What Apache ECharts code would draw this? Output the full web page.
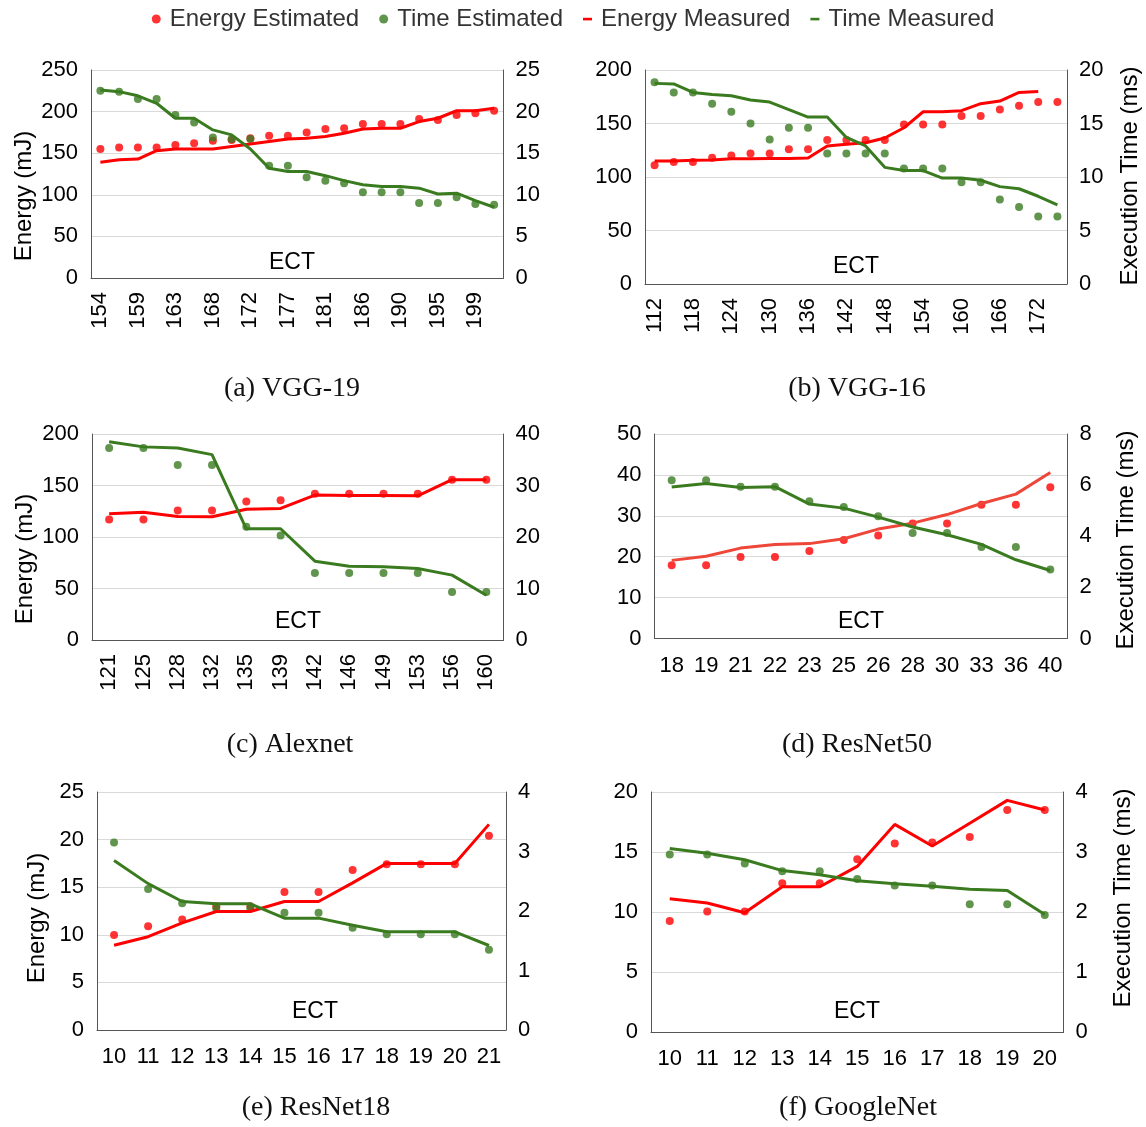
<!DOCTYPE html>
<html>
<head>
<meta charset="utf-8">
<script src="https://cdn.jsdelivr.net/npm/echarts@6/dist/echarts.min.js"></script>
<style>
html,body{margin:0;padding:0;background:#fff;}
#chart{width:1146px;height:1127px;}
</style>
</head>
<body>
<div id="chart"></div>
<script>
// ---------------- DATA ----------------
// (a) VGG-19
const cat_vgg19 = [154,156,159,161,163,165,168,170,172,174,177,179,181,183,186,188,190,192,195,197,199,201];
const energyEst_vgg19 = [155,157,157,157,160,162,165,166,168,171,171,175,179,180,185,185,185,191,190,196,198,201];
const timeEst_vgg19 = [22.5,22.4,21.5,21.5,19.6,18.7,16.9,16.7,16.7,13.5,13.5,12.1,11.7,11.4,10.3,10.3,10.3,9.0,9.0,9.7,8.9,8.8];
const energyMeas_vgg19 = [139,142,143,153,155,155,155,158,161,164,167,168,170,174,179,180,180,188,192,201,201,204];
const timeMeas_vgg19 = [22.6,22.4,21.9,21.0,19.2,19.2,17.8,17.2,15.5,13.2,12.8,12.8,12.3,11.7,11.2,11.0,11.0,10.8,10.1,10.2,9.3,8.5];

// (b) VGG-16
const cat_vgg16 = [112,115,118,121,124,127,130,133,136,139,142,145,148,151,154,157,160,163,166,169,172,175];
const energyEst_vgg16 = [111,114,114,118,120,122,122,126,126,134.6,134.6,134.6,134.6,149,149,149,157,157,163,166.7,170,170];
const timeEst_vgg16 = [18.85,17.9,17.9,16.85,16.1,15.0,13.5,14.6,14.6,12.2,12.2,12.2,12.2,10.8,10.8,10.8,9.5,9.5,7.9,7.2,6.3,6.3];
const energyMeas_vgg16 = [115,115,115.6,116,117,117,117.4,117.4,117.8,129,130.5,132,136.4,146,161,161,162,168.5,171,179,180,null];
const timeMeas_vgg16 = [18.75,18.7,17.9,17.7,17.6,17.2,17.0,16.3,15.6,15.6,13.7,12.9,10.9,10.6,10.6,9.9,9.9,9.7,9.1,8.9,8.2,7.4];

// (c) Alexnet
const cat_alex = [121,125,128,132,135,139,142,146,149,153,156,160];
const energyEst_alex = [117,117,125.8,125.8,134.5,135.8,142,142,142,142,155.6,155.6];
const timeEst_alex = [37.3,37.3,34.0,34.0,22.0,20.3,13.0,13.0,13.0,13.0,9.3,9.3];
const energyMeas_alex = [122.5,124,120,119.6,127,127.7,140.7,140.4,140.4,140,155.6,155.6];
const timeMeas_alex = [38.5,37.5,37.3,36.0,21.6,21.6,15.3,14.3,14.2,13.9,12.6,8.7];

// (d) ResNet50
const cat_r50 = [18,19,21,22,23,25,26,28,30,33,36,40];
const energyEst_r50 = [17.9,17.9,19.9,19.9,21.4,24.1,25.2,28.1,28.1,32.7,32.7,37.0];
const timeEst_r50 = [6.19,6.19,5.94,5.94,5.37,5.14,4.78,4.13,4.13,3.58,3.58,2.70];
const energyMeas_r50 = [19.1,20.1,22.1,23.0,23.2,24.4,26.75,28.2,30.3,33.0,35.3,40.6];
const timeMeas_r50 = [5.93,6.06,5.91,5.94,5.26,5.10,4.75,4.36,4.06,3.68,3.08,2.66];

// (e) ResNet18
const cat_r18 = [10,11,12,13,14,15,16,17,18,19,20,21];
const energyEst_r18 = [9.97,10.9,11.6,13.0,13.0,14.5,14.5,16.8,17.4,17.4,17.4,20.4];
const timeEst_r18 = [3.15,2.37,2.13,2.04,2.04,1.97,1.97,1.72,1.61,1.61,1.61,1.35];
const energyMeas_r18 = [8.9,9.8,11.26,12.45,12.45,13.5,13.5,15.45,17.5,17.5,17.5,21.6];
const timeMeas_r18 = [2.85,2.46,2.16,2.12,2.12,1.88,1.88,1.76,1.65,1.65,1.65,1.42];

// (f) GoogleNet
const cat_gn = [10,11,12,13,14,15,16,17,18,19,20];
const energyEst_gn = [9.25,10.05,10.05,12.4,12.4,14.4,15.7,15.8,16.25,18.5,18.5];
const timeEst_gn = [2.96,2.96,2.81,2.68,2.68,2.55,2.44,2.44,2.13,2.13,1.95];
const energyMeas_gn = [11.1,10.75,9.94,12.1,12.1,13.8,17.3,15.5,17.4,19.3,18.5];
const timeMeas_gn = [3.06,2.98,2.87,2.69,2.62,2.52,2.47,2.43,2.38,2.36,1.96];

const captions = ['(a) VGG-19','(b) VGG-16','(c) Alexnet','(d) ResNet50','(e) ResNet18','(f) GoogleNet'];
const seriesNames = ['Energy Estimated','Time Estimated','Energy Measured','Time Measured'];

// ---------------- LAYOUT ----------------
const RED = '#ff0000';
const GREEN = '#3a7b20';
const FONT = '"Liberation Sans", Arial, sans-serif';

const panels = [
  {cats:cat_vgg19, eE:energyEst_vgg19, tE:timeEst_vgg19, eM:energyMeas_vgg19, tM:timeMeas_vgg19,
   grid:{left:91, top:70, width:412.5, height:208}, eMax:250, eInt:50, tMax:25, tInt:5, rotate:90, li:1,
   ect:[292,263], cap:[292,389], yName:[24,196], redLine:RED},
  {cats:cat_vgg16, eE:energyEst_vgg16, tE:timeEst_vgg16, eM:energyMeas_vgg16, tM:timeMeas_vgg16,
   grid:{left:645, top:70, width:422, height:214}, eMax:200, eInt:50, tMax:20, tInt:5, rotate:90, li:1,
   ect:[856,267], cap:[857,389], tName:[1130,176], redLine:RED},
  {cats:cat_alex, eE:energyEst_alex, tE:timeEst_alex, eM:energyMeas_alex, tM:timeMeas_alex,
   grid:{left:92, top:434, width:411.5, height:206}, eMax:200, eInt:50, tMax:40, tInt:10, rotate:90, li:0,
   ect:[298,622], cap:[290,745], yName:[25,559], redLine:RED},
  {cats:cat_r50, eE:energyEst_r50, tE:timeEst_r50, eM:energyMeas_r50, tM:timeMeas_r50,
   grid:{left:654.5, top:434, width:413, height:204.5}, eMax:50, eInt:10, tMax:8, tInt:2, rotate:0, li:0,
   ect:[861,622], cap:[857,745], tName:[1126,540], redLine:'#ee4638'},
  {cats:cat_r18, eE:energyEst_r18, tE:timeEst_r18, eM:energyMeas_r18, tM:timeMeas_r18,
   grid:{left:97, top:792, width:409, height:238}, eMax:25, eInt:5, tMax:4, tInt:1, rotate:0, li:0,
   ect:[315,1012], cap:[316,1108], yName:[37,918], redLine:RED},
  {cats:cat_gn, eE:energyEst_gn, tE:timeEst_gn, eM:energyMeas_gn, tM:timeMeas_gn,
   grid:{left:651, top:792, width:412.5, height:240}, eMax:20, eInt:5, tMax:4, tInt:1, rotate:0, li:0,
   ect:[857,1012], cap:[858,1108], tName:[1123,898], redLine:RED}
];

const grids = [], xAxes = [], yAxes = [], series = [], graphics = [];
const axisLine = {show:true, lineStyle:{color:'#555', width:1}};

panels.forEach((p, i) => {
  grids.push(Object.assign({containLabel:false}, p.grid));
  xAxes.push({
    type:'category', gridIndex:i, data:p.cats.map(String), boundaryGap:true,
    axisLine:axisLine, axisTick:{show:false},
    axisLabel:{interval:p.li, rotate:p.rotate, margin:p.rotate ? 14 : 16,
      fontSize:22, color:'#000', fontFamily:FONT},
    splitLine:{show:false}
  });
  yAxes.push({
    type:'value', gridIndex:i, position:'left', min:0, max:p.eMax, interval:p.eInt,
    axisLine:axisLine, axisTick:{show:false},
    axisLabel:{fontSize:22, color:'#000', fontFamily:FONT, margin:13},
    splitLine:{show:true, lineStyle:{color:'#d9d9d9', width:1}}
  });
  yAxes.push({
    type:'value', gridIndex:i, position:'right', min:0, max:p.tMax, interval:p.tInt,
    axisLine:axisLine, axisTick:{show:false},
    axisLabel:{fontSize:22, color:'#000', fontFamily:FONT, margin:12},
    splitLine:{show:false}
  });
  const yl = i*2, yr = i*2+1;
  series.push({name:seriesNames[0], type:'scatter', xAxisIndex:i, yAxisIndex:yl, data:p.eE,
    symbol:'circle', symbolSize:8, color:RED, itemStyle:{color:RED}});
  series.push({name:seriesNames[1], type:'scatter', xAxisIndex:i, yAxisIndex:yr, data:p.tE,
    symbol:'circle', symbolSize:8, color:GREEN, itemStyle:{color:GREEN}});
  series.push({name:seriesNames[2], type:'line', xAxisIndex:i, yAxisIndex:yl, data:p.eM,
    symbol:'none', showSymbol:false, color:RED, itemStyle:{color:RED},
    lineStyle:{color:p.redLine, width:3}});
  series.push({name:seriesNames[3], type:'line', xAxisIndex:i, yAxisIndex:yr, data:p.tM,
    symbol:'none', showSymbol:false, color:GREEN, itemStyle:{color:GREEN},
    lineStyle:{color:GREEN, width:3}});

  graphics.push({type:'text', x:p.ect[0], y:p.ect[1], z:10,
    style:{text:'ECT', font:'23px ' + FONT, fill:'#000', align:'center', verticalAlign:'middle'}});
  graphics.push({type:'text', x:p.cap[0], y:p.cap[1], z:10,
    style:{text:captions[i], font:'28px "Liberation Serif", "Times New Roman", serif', fill:'#111', align:'center', verticalAlign:'middle'}});
  if (p.yName) graphics.push({type:'text', x:p.yName[0], y:p.yName[1], rotation:Math.PI/2, z:10,
    style:{text:'Energy (mJ)', font:'24px ' + FONT, fill:'#000', align:'center', verticalAlign:'middle'}});
  if (p.tName) graphics.push({type:'text', x:p.tName[0], y:p.tName[1], rotation:Math.PI/2, z:10,
    style:{text:'Execution Time (ms)', font:'24px ' + FONT, fill:'#000', align:'center', verticalAlign:'middle'}});
});

const dotIcon = 'circle';
const dashIcon = 'path://M0,0M9,9M0,3.3h9v2.6h-9z';

const option = {
  backgroundColor:'#fff',
  animation:false,
  legend:{
    top:2, left:'center', itemWidth:9, itemHeight:9, itemGap:20,
    textStyle:{fontSize:24, color:'#333', fontFamily:FONT, padding:[0,0,0,4]},
    data:[
      {name:seriesNames[0], icon:dotIcon},
      {name:seriesNames[1], icon:dotIcon},
      {name:seriesNames[2], icon:dashIcon},
      {name:seriesNames[3], icon:dashIcon}
    ]
  },
  grid:grids, xAxis:xAxes, yAxis:yAxes, series:series, graphic:graphics
};

const chart = echarts.init(document.getElementById('chart'), null, {renderer:'canvas'});
chart.setOption(option);
</script>
</body>
</html>
